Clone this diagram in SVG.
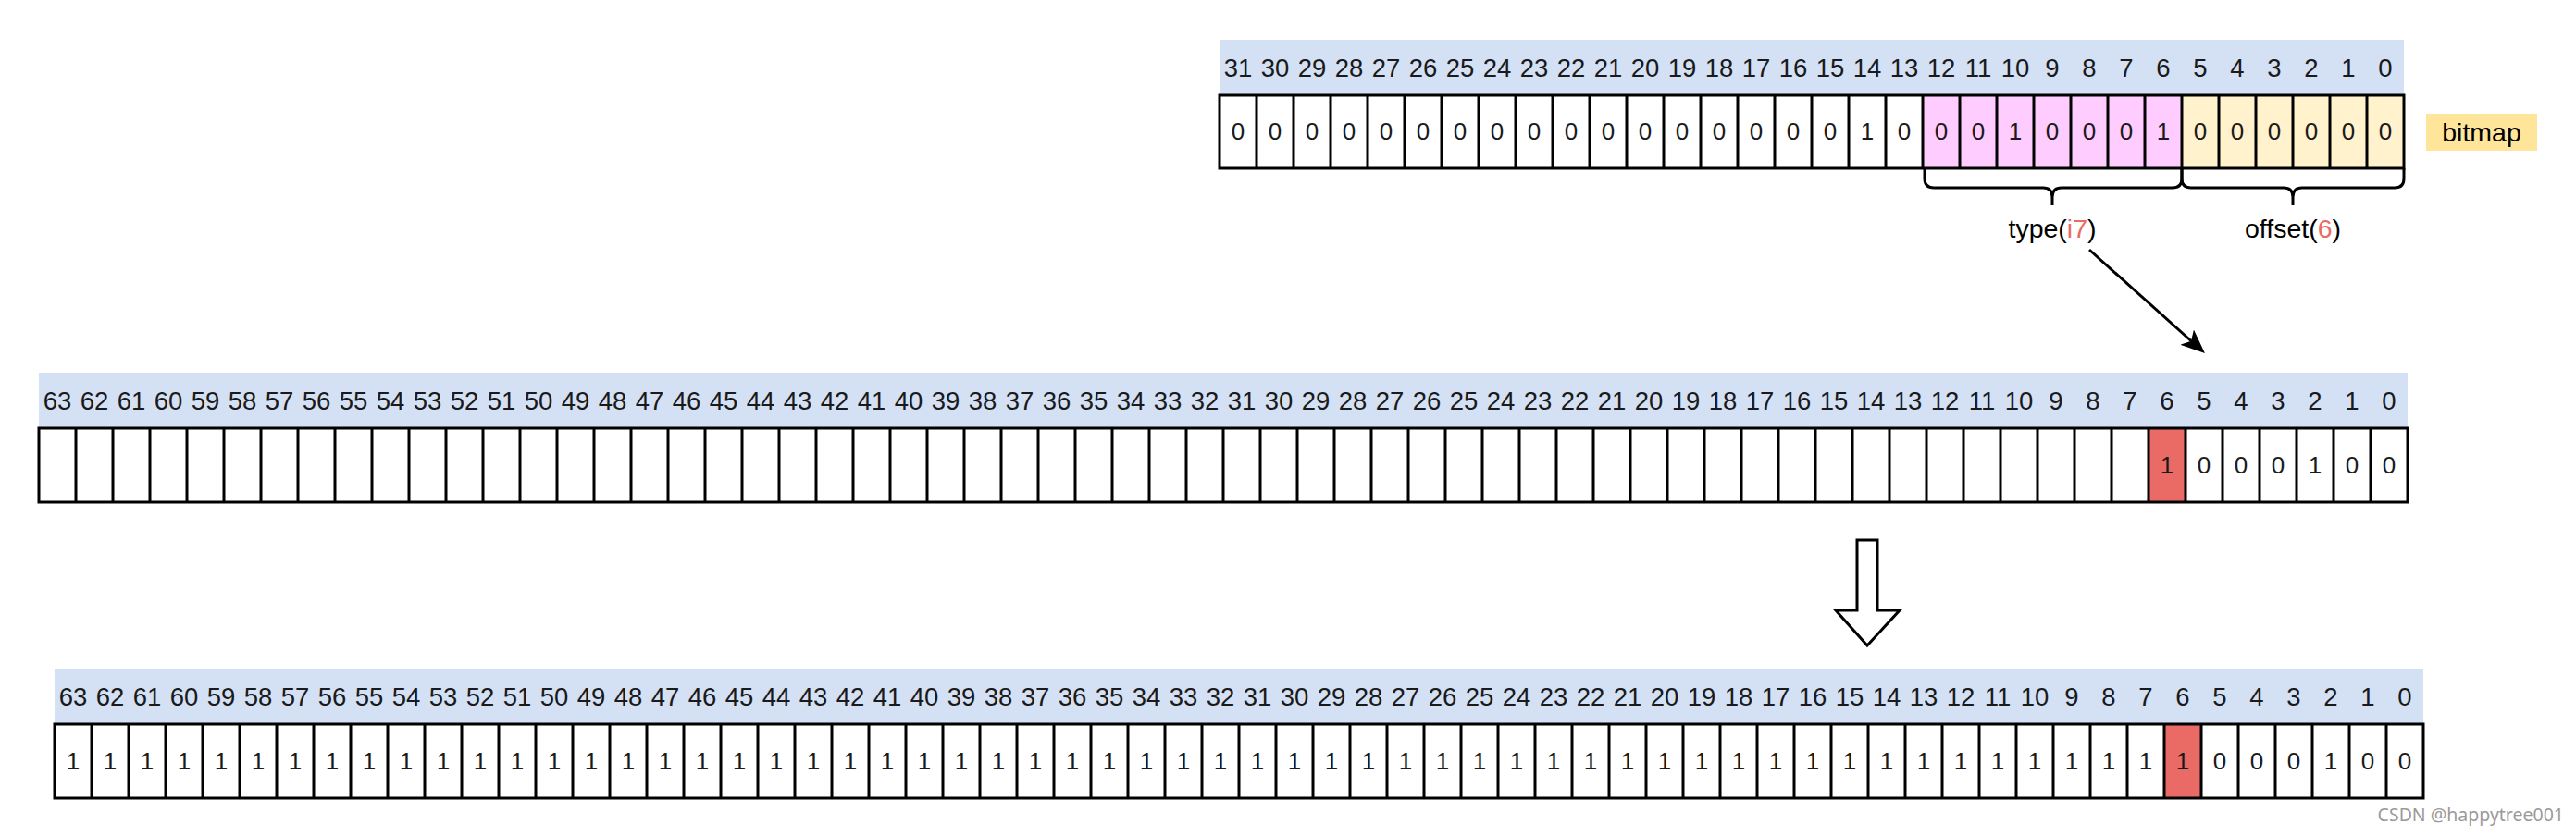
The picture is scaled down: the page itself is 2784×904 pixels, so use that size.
<svg xmlns="http://www.w3.org/2000/svg" width="2784" height="904" viewBox="0 0 2784 904">
<style>
.hdr{fill:#D4E1F5;stroke:none}
.grid{fill:none;stroke:#000;stroke-width:3}
.t{font-family:"Liberation Sans",Arial,sans-serif;font-size:26px;fill:#1a1a1a;text-anchor:middle}
.h{font-size:27.5px}
.lbl{font-family:"Liberation Sans",Arial,sans-serif;font-size:28.5px;fill:#000;text-anchor:middle}
.red{fill:#EA6B66}
.wm{font-family:"Noto Sans","Open Sans",sans-serif;font-size:19.5px;fill:#9a9a9a;text-anchor:end}
</style>
<defs>
<marker id="ah" viewBox="0 0 26 22" refX="14" refY="11" markerWidth="26" markerHeight="22" markerUnits="userSpaceOnUse" orient="auto">
<path d="M0,0 L26,11 L0,22 L6,11 Z" fill="#000"/>
</marker>
</defs>
<rect width="2784" height="904" fill="#fff"/>

<!-- Top 32-bit row -->
<g id="row32" transform="translate(1318,43)">
<rect class="hdr" x="0" y="0" width="1280" height="60"/>
<rect x="760" y="60" width="280" height="79" fill="#FFCCFF"/>
<rect x="1040" y="60" width="240" height="79" fill="#FFF2CC"/>
<rect class="grid" x="0" y="60" width="1280" height="79"/>
<path class="grid" d="M40,60v79M80,60v79M120,60v79M160,60v79M200,60v79M240,60v79M280,60v79M320,60v79M360,60v79M400,60v79M440,60v79M480,60v79M520,60v79M560,60v79M600,60v79M640,60v79M680,60v79M720,60v79M760,60v79M800,60v79M840,60v79M880,60v79M920,60v79M960,60v79M1000,60v79M1040,60v79M1080,60v79M1120,60v79M1160,60v79M1200,60v79M1240,60v79"/>
<g class="t h">
<text x="20" y="40">31</text><text x="60" y="40">30</text><text x="100" y="40">29</text><text x="140" y="40">28</text><text x="180" y="40">27</text><text x="220" y="40">26</text><text x="260" y="40">25</text><text x="300" y="40">24</text><text x="340" y="40">23</text><text x="380" y="40">22</text><text x="420" y="40">21</text><text x="460" y="40">20</text><text x="500" y="40">19</text><text x="540" y="40">18</text><text x="580" y="40">17</text><text x="620" y="40">16</text><text x="660" y="40">15</text><text x="700" y="40">14</text><text x="740" y="40">13</text><text x="780" y="40">12</text><text x="820" y="40">11</text><text x="860" y="40">10</text><text x="900" y="40">9</text><text x="940" y="40">8</text><text x="980" y="40">7</text><text x="1020" y="40">6</text><text x="1060" y="40">5</text><text x="1100" y="40">4</text><text x="1140" y="40">3</text><text x="1180" y="40">2</text><text x="1220" y="40">1</text><text x="1260" y="40">0</text>
</g>
<g class="t">
<text x="20" y="108">0</text><text x="60" y="108">0</text><text x="100" y="108">0</text><text x="140" y="108">0</text><text x="180" y="108">0</text><text x="220" y="108">0</text><text x="260" y="108">0</text><text x="300" y="108">0</text><text x="340" y="108">0</text><text x="380" y="108">0</text><text x="420" y="108">0</text><text x="460" y="108">0</text><text x="500" y="108">0</text><text x="540" y="108">0</text><text x="580" y="108">0</text><text x="620" y="108">0</text><text x="660" y="108">0</text><text x="700" y="108">1</text><text x="740" y="108">0</text><text x="780" y="108">0</text><text x="820" y="108">0</text><text x="860" y="108">1</text><text x="900" y="108">0</text><text x="940" y="108">0</text><text x="980" y="108">0</text><text x="1020" y="108">1</text><text x="1060" y="108">0</text><text x="1100" y="108">0</text><text x="1140" y="108">0</text><text x="1180" y="108">0</text><text x="1220" y="108">0</text><text x="1260" y="108">0</text>
</g>
</g>

<g id="bitmap-label">
<rect x="2622" y="123" width="120" height="40" fill="#FFE599"/>
<text class="lbl" x="2682" y="153">bitmap</text>
</g>

<g id="brace-type">
<path class="grid" d="M2080,182V193Q2080,203 2090,203H2208Q2218,203 2218,213V222M2218,213Q2218,203 2228,203H2348Q2358,203 2358,193V182"/>
<text class="lbl" x="2218" y="257">type(<tspan class="red">i7</tspan>)</text>
</g>
<g id="brace-offset">
<path class="grid" d="M2358,182V193Q2358,203 2368,203H2468Q2478,203 2478,213V222M2478,213Q2478,203 2488,203H2588Q2598,203 2598,193V182"/>
<text class="lbl" x="2478" y="257">offset(<tspan class="red">6</tspan>)</text>
</g>

<!-- Middle 64-bit row -->
<g id="row64a" transform="translate(42,403)">
<rect class="hdr" x="0" y="0" width="2560" height="60"/>
<rect x="2280" y="60" width="40" height="80" fill="#EA6B66"/>
<rect class="grid" x="0" y="60" width="2560" height="80"/>
<path class="grid" d="M40,60v80M80,60v80M120,60v80M160,60v80M200,60v80M240,60v80M280,60v80M320,60v80M360,60v80M400,60v80M440,60v80M480,60v80M520,60v80M560,60v80M600,60v80M640,60v80M680,60v80M720,60v80M760,60v80M800,60v80M840,60v80M880,60v80M920,60v80M960,60v80M1000,60v80M1040,60v80M1080,60v80M1120,60v80M1160,60v80M1200,60v80M1240,60v80M1280,60v80M1320,60v80M1360,60v80M1400,60v80M1440,60v80M1480,60v80M1520,60v80M1560,60v80M1600,60v80M1640,60v80M1680,60v80M1720,60v80M1760,60v80M1800,60v80M1840,60v80M1880,60v80M1920,60v80M1960,60v80M2000,60v80M2040,60v80M2080,60v80M2120,60v80M2160,60v80M2200,60v80M2240,60v80M2280,60v80M2320,60v80M2360,60v80M2400,60v80M2440,60v80M2480,60v80M2520,60v80"/>
<g class="t h">
<text x="20" y="40">63</text><text x="60" y="40">62</text><text x="100" y="40">61</text><text x="140" y="40">60</text><text x="180" y="40">59</text><text x="220" y="40">58</text><text x="260" y="40">57</text><text x="300" y="40">56</text><text x="340" y="40">55</text><text x="380" y="40">54</text><text x="420" y="40">53</text><text x="460" y="40">52</text><text x="500" y="40">51</text><text x="540" y="40">50</text><text x="580" y="40">49</text><text x="620" y="40">48</text><text x="660" y="40">47</text><text x="700" y="40">46</text><text x="740" y="40">45</text><text x="780" y="40">44</text><text x="820" y="40">43</text><text x="860" y="40">42</text><text x="900" y="40">41</text><text x="940" y="40">40</text><text x="980" y="40">39</text><text x="1020" y="40">38</text><text x="1060" y="40">37</text><text x="1100" y="40">36</text><text x="1140" y="40">35</text><text x="1180" y="40">34</text><text x="1220" y="40">33</text><text x="1260" y="40">32</text><text x="1300" y="40">31</text><text x="1340" y="40">30</text><text x="1380" y="40">29</text><text x="1420" y="40">28</text><text x="1460" y="40">27</text><text x="1500" y="40">26</text><text x="1540" y="40">25</text><text x="1580" y="40">24</text><text x="1620" y="40">23</text><text x="1660" y="40">22</text><text x="1700" y="40">21</text><text x="1740" y="40">20</text><text x="1780" y="40">19</text><text x="1820" y="40">18</text><text x="1860" y="40">17</text><text x="1900" y="40">16</text><text x="1940" y="40">15</text><text x="1980" y="40">14</text><text x="2020" y="40">13</text><text x="2060" y="40">12</text><text x="2100" y="40">11</text><text x="2140" y="40">10</text><text x="2180" y="40">9</text><text x="2220" y="40">8</text><text x="2260" y="40">7</text><text x="2300" y="40">6</text><text x="2340" y="40">5</text><text x="2380" y="40">4</text><text x="2420" y="40">3</text><text x="2460" y="40">2</text><text x="2500" y="40">1</text><text x="2540" y="40">0</text>
</g>
<g class="t">
<text x="2300" y="109">1</text><text x="2340" y="109">0</text><text x="2380" y="109">0</text><text x="2420" y="109">0</text><text x="2460" y="109">1</text><text x="2500" y="109">0</text><text x="2540" y="109">0</text>
</g>
</g>

<!-- Bottom 64-bit row -->
<g id="row64b" transform="translate(59,723)">
<rect class="hdr" x="0" y="0" width="2560" height="60"/>
<rect x="2280" y="60" width="40" height="80" fill="#EA6B66"/>
<rect class="grid" x="0" y="60" width="2560" height="80"/>
<path class="grid" d="M40,60v80M80,60v80M120,60v80M160,60v80M200,60v80M240,60v80M280,60v80M320,60v80M360,60v80M400,60v80M440,60v80M480,60v80M520,60v80M560,60v80M600,60v80M640,60v80M680,60v80M720,60v80M760,60v80M800,60v80M840,60v80M880,60v80M920,60v80M960,60v80M1000,60v80M1040,60v80M1080,60v80M1120,60v80M1160,60v80M1200,60v80M1240,60v80M1280,60v80M1320,60v80M1360,60v80M1400,60v80M1440,60v80M1480,60v80M1520,60v80M1560,60v80M1600,60v80M1640,60v80M1680,60v80M1720,60v80M1760,60v80M1800,60v80M1840,60v80M1880,60v80M1920,60v80M1960,60v80M2000,60v80M2040,60v80M2080,60v80M2120,60v80M2160,60v80M2200,60v80M2240,60v80M2280,60v80M2320,60v80M2360,60v80M2400,60v80M2440,60v80M2480,60v80M2520,60v80"/>
<g class="t h">
<text x="20" y="40">63</text><text x="60" y="40">62</text><text x="100" y="40">61</text><text x="140" y="40">60</text><text x="180" y="40">59</text><text x="220" y="40">58</text><text x="260" y="40">57</text><text x="300" y="40">56</text><text x="340" y="40">55</text><text x="380" y="40">54</text><text x="420" y="40">53</text><text x="460" y="40">52</text><text x="500" y="40">51</text><text x="540" y="40">50</text><text x="580" y="40">49</text><text x="620" y="40">48</text><text x="660" y="40">47</text><text x="700" y="40">46</text><text x="740" y="40">45</text><text x="780" y="40">44</text><text x="820" y="40">43</text><text x="860" y="40">42</text><text x="900" y="40">41</text><text x="940" y="40">40</text><text x="980" y="40">39</text><text x="1020" y="40">38</text><text x="1060" y="40">37</text><text x="1100" y="40">36</text><text x="1140" y="40">35</text><text x="1180" y="40">34</text><text x="1220" y="40">33</text><text x="1260" y="40">32</text><text x="1300" y="40">31</text><text x="1340" y="40">30</text><text x="1380" y="40">29</text><text x="1420" y="40">28</text><text x="1460" y="40">27</text><text x="1500" y="40">26</text><text x="1540" y="40">25</text><text x="1580" y="40">24</text><text x="1620" y="40">23</text><text x="1660" y="40">22</text><text x="1700" y="40">21</text><text x="1740" y="40">20</text><text x="1780" y="40">19</text><text x="1820" y="40">18</text><text x="1860" y="40">17</text><text x="1900" y="40">16</text><text x="1940" y="40">15</text><text x="1980" y="40">14</text><text x="2020" y="40">13</text><text x="2060" y="40">12</text><text x="2100" y="40">11</text><text x="2140" y="40">10</text><text x="2180" y="40">9</text><text x="2220" y="40">8</text><text x="2260" y="40">7</text><text x="2300" y="40">6</text><text x="2340" y="40">5</text><text x="2380" y="40">4</text><text x="2420" y="40">3</text><text x="2460" y="40">2</text><text x="2500" y="40">1</text><text x="2540" y="40">0</text>
</g>
<g class="t">
<text x="20" y="109">1</text><text x="60" y="109">1</text><text x="100" y="109">1</text><text x="140" y="109">1</text><text x="180" y="109">1</text><text x="220" y="109">1</text><text x="260" y="109">1</text><text x="300" y="109">1</text><text x="340" y="109">1</text><text x="380" y="109">1</text><text x="420" y="109">1</text><text x="460" y="109">1</text><text x="500" y="109">1</text><text x="540" y="109">1</text><text x="580" y="109">1</text><text x="620" y="109">1</text><text x="660" y="109">1</text><text x="700" y="109">1</text><text x="740" y="109">1</text><text x="780" y="109">1</text><text x="820" y="109">1</text><text x="860" y="109">1</text><text x="900" y="109">1</text><text x="940" y="109">1</text><text x="980" y="109">1</text><text x="1020" y="109">1</text><text x="1060" y="109">1</text><text x="1100" y="109">1</text><text x="1140" y="109">1</text><text x="1180" y="109">1</text><text x="1220" y="109">1</text><text x="1260" y="109">1</text><text x="1300" y="109">1</text><text x="1340" y="109">1</text><text x="1380" y="109">1</text><text x="1420" y="109">1</text><text x="1460" y="109">1</text><text x="1500" y="109">1</text><text x="1540" y="109">1</text><text x="1580" y="109">1</text><text x="1620" y="109">1</text><text x="1660" y="109">1</text><text x="1700" y="109">1</text><text x="1740" y="109">1</text><text x="1780" y="109">1</text><text x="1820" y="109">1</text><text x="1860" y="109">1</text><text x="1900" y="109">1</text><text x="1940" y="109">1</text><text x="1980" y="109">1</text><text x="2020" y="109">1</text><text x="2060" y="109">1</text><text x="2100" y="109">1</text><text x="2140" y="109">1</text><text x="2180" y="109">1</text><text x="2220" y="109">1</text><text x="2260" y="109">1</text><text x="2300" y="109">1</text><text x="2340" y="109">0</text><text x="2380" y="109">0</text><text x="2420" y="109">0</text><text x="2460" y="109">1</text><text x="2500" y="109">0</text><text x="2540" y="109">0</text>
</g>
</g>

<g id="connectors">
<line x1="2258" y1="270" x2="2374" y2="374" stroke="#000" stroke-width="3" marker-end="url(#ah)"/>
<polygon points="2007,584 2029,584 2029,660 2053,660 2018,698 1984,660 2007,660" fill="#fff" stroke="#000" stroke-width="3" stroke-linejoin="miter"/>
</g>

<text class="wm" x="2771" y="888">CSDN @happytree001</text>
</svg>
